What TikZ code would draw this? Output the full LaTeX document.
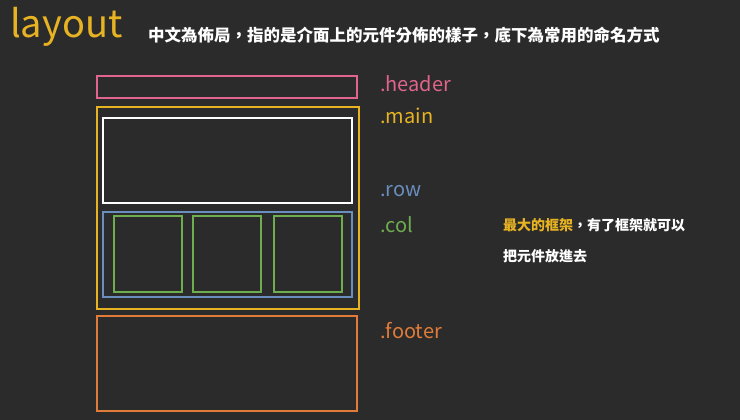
\documentclass[tikz,border=0pt]{standalone}
\usepackage{fontspec}
\setmainfont{Noto Sans CJK TC}
\definecolor{bg}{HTML}{2B2B2B}
\definecolor{cyel}{HTML}{E8B323}
\definecolor{cpink}{HTML}{E0648C}
\definecolor{cblue}{HTML}{6A8FBF}
\definecolor{cgreen}{HTML}{6FAE4E}
\definecolor{corange}{HTML}{E07B39}
\tikzset{box/.style={line width=1.1pt},
 lab/.style={anchor=west,inner sep=0pt,font=\fontsize{20}{23}\selectfont},
 txt/.style={anchor=west,inner sep=0pt,text=white,font=\bfseries\fontsize{14}{16}\selectfont}}
\begin{document}
\begin{tikzpicture}[x=1pt,y=-1pt]
\fill[bg] (0,0) rectangle (740,420);
\useasboundingbox (0,0) rectangle (740,420);
\node[anchor=west,inner sep=0pt,text=cyel,font=\fontsize{38}{42}\selectfont] (t) at (10,27) {layout};
\node[txt,font=\bfseries\fontsize{16.5}{19}\selectfont] (sub) at (148,35) {中文為佈局，指的是介面上的元件分佈的樣子，底下為常用的命名方式};
\draw[box,draw=cpink] (97,76) rectangle (357,98);
\draw[box,draw=cyel] (97,107) rectangle (359,309);
\draw[box,draw=white] (103,118) rectangle (352,203);
\draw[box,draw=cblue] (103,212) rectangle (352,297);
\draw[box,draw=cgreen] (114,216) rectangle (182,292);
\draw[box,draw=cgreen] (193,216) rectangle (261,292);
\draw[box,draw=cgreen] (274,216) rectangle (342,292);
\draw[box,draw=corange] (97,316) rectangle (357,411);
\node[lab,text=cpink] (h) at (380,84) {.header};
\node[lab,text=cyel] (m) at (380,116) {.main};
\node[lab,text=cblue] (r) at (380,191) {.row};
\node[lab,text=cgreen] (c) at (380,225) {.col};
\node[lab,text=corange] (f) at (380,331) {.footer};
\node[txt] (d1) at (503,225) {\textcolor{cyel}{最大的框架}，有了框架就可以};
\node[txt] (d2) at (503,256) {把元件放進去};
\end{tikzpicture}
\end{document}
